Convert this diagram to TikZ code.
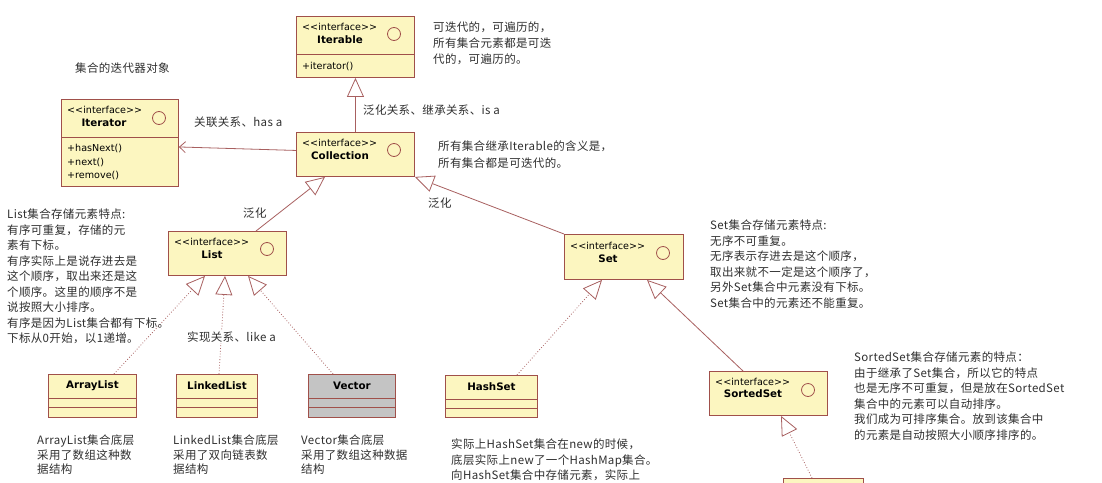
\documentclass[tikz,border=0pt]{standalone}
\usepackage{fontspec}
\setmainfont{DejaVu Sans}
\newfontfamily\cjk{Noto Sans CJK SC}[LetterSpace=3]
\usetikzlibrary{arrows.meta,calc}
\definecolor{boxfill}{HTML}{FCF6C0}
\definecolor{boxdraw}{HTML}{A0504A}
\definecolor{linec}{HTML}{A86060}
\definecolor{txt}{HTML}{303030}
\definecolor{vecfill}{HTML}{C4C4C4}
\tikzset{
 ibox/.style={draw=boxdraw, fill=boxfill, line width=0.9pt, anchor=north west, inner sep=0, minimum width=118pt, minimum height=45pt},
 cbox/.style={draw=boxdraw, fill=boxfill, line width=0.9pt, anchor=north west, inner sep=0, minimum height=43pt},
 stereo/.style={anchor=west, inner sep=0, font=\fontsize{9.6}{11}\selectfont},
 iname/.style={inner sep=0, font=\bfseries\fontsize{10.3}{12}\selectfont},
 meth/.style={anchor=west, inner sep=0, font=\fontsize{9.6}{11}\selectfont},
 note/.style={anchor=north west, inner sep=0, align=left, text=txt, font=\cjk\fontsize{11.5}{15.5}\selectfont},
 lbl/.style={anchor=west, inner sep=0, text=txt, font=\cjk\fontsize{11.5}{15.5}\selectfont},
 gen/.style={draw=linec, line width=0.8pt, -{Triangle[length=19pt,width=17pt,fill=white]}},
 real/.style={gen, dotted},
 assoc/.style={draw=linec, line width=0.8pt, -{Straight Barb[length=6pt,width=11pt]}},
 icirc/.style={circle, draw=boxdraw, line width=0.8pt, minimum size=13pt, inner sep=0},
 divider/.style={draw=boxdraw, line width=0.9pt},
}
\begin{document}
\begin{tikzpicture}[x=1pt,y=-1pt]
\path[use as bounding box, fill=white] (0,0) rectangle (1102,482);
\clip (0,0) rectangle (1102,482);

% ---------- interface boxes ----------
\node[ibox, minimum height=61pt] (Iterable) at (296,16) {};
\draw[divider] ($(Iterable.north west)+(0,38)$) -- ($(Iterable.north east)+(0,38)$);
\node[stereo] (IterableS) at ($(Iterable.north west)+(6,11)$) {<{}<interface>{}>};
\node[iname] (IterableN) at ($(Iterable.north west)+(44,24)$) {Iterable};
\node[icirc] (IterableC) at ($(Iterable.north west)+(98,18)$) {};
\node[meth] (IterableM) at ($(Iterable.north west)+(6,50)$) {+iterator()};

\node[ibox, minimum width=117pt, minimum height=87pt] (Iterator) at (61,99) {};
\draw[divider] ($(Iterator.north west)+(0,38)$) -- ($(Iterator.north east)+(0,38)$);
\node[stereo] (IteratorS) at ($(Iterator.north west)+(6,11)$) {<{}<interface>{}>};
\node[iname] (IteratorN) at ($(Iterator.north west)+(43,24)$) {Iterator};
\node[icirc] (IteratorC) at ($(Iterator.north west)+(98,19)$) {};
\node[meth] (IteratorM1) at ($(Iterator.north west)+(6,49)$) {+hasNext()};
\node[meth] (IteratorM2) at ($(Iterator.north west)+(6,63)$) {+next()};
\node[meth] (IteratorM3) at ($(Iterator.north west)+(6,76)$) {+remove()};

\node[ibox, minimum height=44pt] (Collection) at (296,132) {};
\node[stereo] (CollectionS) at ($(Collection.north west)+(6,11)$) {<{}<interface>{}>};
\node[iname] (CollectionN) at ($(Collection.north west)+(44,24)$) {Collection};
\node[icirc] (CollectionC) at ($(Collection.north west)+(98,18)$) {};

\node[ibox, minimum height=44pt] (List) at (168,231) {};
\node[stereo] (ListS) at ($(List.north west)+(6,11)$) {<{}<interface>{}>};
\node[iname] (ListN) at ($(List.north west)+(44,24)$) {List};
\node[icirc] (ListC) at ($(List.north west)+(99,18)$) {};

\node[ibox, minimum width=119pt] (Set) at (564,234) {};
\node[stereo] (SetS) at ($(Set.north west)+(6,12)$) {<{}<interface>{}>};
\node[iname] (SetN) at ($(Set.north west)+(44,25)$) {Set};
\node[icirc] (SetC) at ($(Set.north west)+(99,19)$) {};

\node[ibox, minimum height=44pt] (SortedSet) at (709,371) {};
\node[stereo] (SortedSetS) at ($(SortedSet.north west)+(6,11)$) {<{}<interface>{}>};
\node[iname] (SortedSetN) at ($(SortedSet.north west)+(44,23)$) {SortedSet};
\node[icirc] (SortedSetC) at ($(SortedSet.north west)+(99,19)$) {};

% ---------- class boxes ----------
\node[cbox, minimum width=88pt] (ArrayList) at (48,374) {};
\node[cbox, minimum width=81pt] (LinkedList) at (176,374) {};
\node[cbox, minimum width=87pt, fill=vecfill] (Vector) at (308,374) {};
\node[cbox, minimum width=92pt, minimum height=42pt] (HashSet) at (445,375) {};
\node[cbox, minimum width=80pt, minimum height=30pt] (Bottom) at (783,478) {};
\foreach \b in {ArrayList,LinkedList,Vector,HashSet}{
  \draw[divider] ($(\b.north west)+(0,24)$) -- ($(\b.north east)+(0,24)$);
  \draw[divider] ($(\b.north west)+(0,33)$) -- ($(\b.north east)+(0,33)$);
}
\node[iname] (ArrayListN) at ($(ArrayList.north)+(0,12)$) {ArrayList};
\node[iname] (LinkedListN) at ($(LinkedList.north)+(0,12)$) {LinkedList};
\node[iname] (VectorN) at ($(Vector.north)+(0,12)$) {Vector};
\node[iname] (HashSetN) at ($(HashSet.north)+(0,12)$) {HashSet};

% ---------- connectors ----------
\draw[gen] (Collection.north) -- (Iterable.south);
\draw[assoc] ($(Collection.west)+(0,-4)$) -- ($(Iterator.east)+(0,4)$);
\draw[gen] ($(List.north west)+(88,0)$) -- ($(Collection.south west)+(29,0)$);
\draw[gen] (Set.north west) -- (Collection.south east);
\draw[real] ($(ArrayList.north west)+(66,0)$) -- ($(List.south west)+(37,0)$);
\draw[real] ($(LinkedList.north west)+(43,0)$) -- ($(List.south west)+(57,0)$);
\draw[real] ($(Vector.north west)+(25,0)$) -- ($(List.south west)+(80,0)$);
\draw[real] ($(HashSet.north west)+(72,0)$) -- ($(Set.south west)+(38,0)$);
\draw[gen] ($(SortedSet.north west)+(34,0)$) -- ($(Set.south west)+(83,0)$);
\draw[real] ($(Bottom.north west)+(29,0)$) -- ($(SortedSet.south west)+(72,0)$);

% ---------- labels ----------
\node[lbl] (lblIter) at (75,68) {集合的迭代器对象};
\node[lbl] (lblHas) at (194,122) {关联关系、has a};
\node[lbl] (lblIsa) at (363,110) {泛化关系、继承关系、is a};
\node[lbl] (lblGen1) at (243,213) {泛化};
\node[lbl] (lblGen2) at (428,203) {泛化};
\node[lbl, fill=white, inner sep=1pt] (lblLike) at (186,337) {实现关系、like a};

% ---------- notes ----------
\node[note, font=\cjk\fontsize{11.5}{16}\selectfont] (noteIterable) at (433,22) {可迭代的，可遍历的，\\所有集合元素都是可迭\\代的，可遍历的。};
\node[note, font=\cjk\fontsize{11.5}{16.5}\selectfont] (noteCollection) at (438,141) {所有集合继承Iterable的含义是，\\所有集合都是可迭代的。};
\node[note] (noteList) at (7,209) {List集合存储元素特点:\\有序可重复，存储的元\\素有下标。\\有序实际上是说存进去是\\这个顺序，取出来还是这\\个顺序。这里的顺序不是\\说按照大小排序。\\有序是因为List集合都有下标。\\下标从0开始，以1递增。};
\node[note] (noteSet) at (710,220) {Set集合存储元素特点:\\无序不可重复。\\无序表示存进去是这个顺序，\\取出来就不一定是这个顺序了，\\另外Set集合中元素没有下标。\\Set集合中的元素还不能重复。};
\node[note] (noteSorted) at (854,352) {SortedSet集合存储元素的特点：\\由于继承了Set集合，所以它的特点\\也是无序不可重复，但是放在SortedSet\\集合中的元素可以自动排序。\\我们成为可排序集合。放到该集合中\\的元素是自动按照大小顺序排序的。};
\node[note, font=\cjk\fontsize{11.5}{14.5}\selectfont] (noteArray) at (37,435) {ArrayList集合底层\\采用了数组这种数\\据结构};
\node[note, font=\cjk\fontsize{11.5}{14.5}\selectfont] (noteLinked) at (173,435) {LinkedList集合底层\\采用了双向链表数\\据结构};
\node[note, font=\cjk\fontsize{11.5}{14.5}\selectfont] (noteVector) at (301,435) {Vector集合底层\\采用了数组这种数据\\结构};
\node[note] (noteHash) at (451,439) {实际上HashSet集合在new的时候，\\底层实际上new了一个HashMap集合。\\向HashSet集合中存储元素，实际上};
\end{tikzpicture}
\end{document}
